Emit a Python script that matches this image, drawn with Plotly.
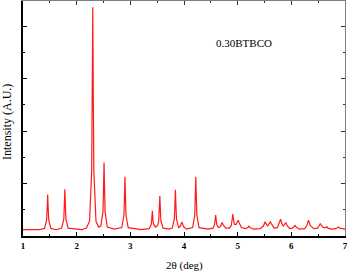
import plotly.graph_objects as go

# Diffraction pattern (2theta in degrees, intensity in arbitrary units)
two_theta = [
    1.00, 1.30,
    1.40, 1.44, 1.45, 1.46, 1.47, 1.48, 1.52, 1.62,
    1.72, 1.76, 1.77, 1.78, 1.79, 1.80, 1.84, 2.10,
    2.18, 2.24, 2.28, 2.29, 2.30, 2.31, 2.32, 2.36, 2.41,
    2.45, 2.49, 2.50, 2.51, 2.52, 2.53, 2.57, 2.70,
    2.84, 2.88, 2.89, 2.90, 2.91, 2.92, 2.96, 3.20,
    3.35, 3.39, 3.40, 3.41, 3.42, 3.43, 3.47,
    3.51, 3.53, 3.54, 3.55, 3.56, 3.57, 3.61, 3.72,
    3.78, 3.82, 3.83, 3.84, 3.85, 3.86, 3.90,
    3.93, 3.95, 3.96, 3.97, 3.99, 4.05, 4.12,
    4.16, 4.20, 4.21, 4.22, 4.23, 4.24, 4.28, 4.45,
    4.54, 4.57, 4.58, 4.59, 4.60, 4.61, 4.64, 4.67,
    4.69, 4.71, 4.73, 4.78, 4.85,
    4.88, 4.90, 4.91, 4.92, 4.94, 4.97,
    4.99, 5.01, 5.03, 5.07, 5.15,
    5.19, 5.21, 5.23, 5.30, 5.42,
    5.48, 5.50, 5.51, 5.53, 5.56,
    5.59, 5.61, 5.63, 5.68, 5.74,
    5.78, 5.80, 5.82, 5.85,
    5.88, 5.90, 5.92, 5.97, 6.02,
    6.05, 6.07, 6.09, 6.15, 6.25,
    6.29, 6.31, 6.32, 6.33, 6.35, 6.42, 6.49,
    6.52, 6.54, 6.56, 6.60,
    6.64, 6.66, 6.68, 6.75, 6.83,
    6.86, 6.88, 6.90, 6.96, 7.00,
]
intensity = [
    0.12, 0.12,
    0.145, 0.30, 0.52, 0.79, 0.52, 0.30, 0.145, 0.12,
    0.15, 0.32, 0.57, 0.89, 0.57, 0.32, 0.15, 0.12,
    0.15, 0.28, 1.24, 2.62, 4.36, 2.62, 1.24, 0.28, 0.17,
    0.19, 0.46, 0.88, 1.40, 0.88, 0.46, 0.17, 0.13,
    0.16, 0.39, 0.72, 1.13, 0.72, 0.39, 0.16, 0.12,
    0.14, 0.22, 0.33, 0.48, 0.33, 0.23, 0.17,
    0.20, 0.30, 0.50, 0.76, 0.50, 0.29, 0.15, 0.13,
    0.15, 0.32, 0.57, 0.88, 0.57, 0.32, 0.16,
    0.18, 0.24, 0.27, 0.24, 0.18, 0.13, 0.14,
    0.16, 0.39, 0.72, 1.13, 0.72, 0.39, 0.16, 0.13,
    0.15, 0.22, 0.31, 0.40, 0.31, 0.22, 0.16, 0.17,
    0.21, 0.26, 0.21, 0.15, 0.15,
    0.20, 0.33, 0.42, 0.33, 0.22, 0.22,
    0.26, 0.30, 0.25, 0.16, 0.14,
    0.16, 0.19, 0.16, 0.13, 0.14,
    0.19, 0.25, 0.27, 0.23, 0.19,
    0.24, 0.27, 0.23, 0.15, 0.16,
    0.26, 0.32, 0.24, 0.19,
    0.23, 0.25, 0.20, 0.14, 0.15,
    0.18, 0.20, 0.17, 0.13, 0.14,
    0.20, 0.27, 0.30, 0.27, 0.20, 0.14, 0.15,
    0.20, 0.24, 0.20, 0.16,
    0.16, 0.18, 0.15, 0.13, 0.14,
    0.16, 0.17, 0.15, 0.13, 0.13,
]

x_ticks = [1, 2, 3, 4, 5, 6, 7]
x_tick_labels = ["1", "2", "3", "4", "5", "6", "7"]
sample_label = "0.30BTBCO"
x_title = "2θ (deg)"
y_title = "Intensity (A.U.)"

X_RANGE = [1, 7]
Y_RANGE = [0, 4.48]
FONT = "Liberation Serif"

fig = go.Figure()
fig.add_trace(go.Scatter(
    x=two_theta, y=intensity, mode="lines",
    line=dict(color="#ff1a1a", width=1.2),
    showlegend=False, hoverinfo="skip",
))
# invisible helper trace so the top/right frame axes are drawn
fig.add_trace(go.Scatter(x=[None], y=[None], xaxis="x2", yaxis="y2",
                         showlegend=False, hoverinfo="skip"))

fig.update_layout(
    width=349, height=272,
    margin=dict(l=23, r=4, t=1, b=36, autoexpand=False),
    paper_bgcolor="white", plot_bgcolor="white",
    font=dict(family=FONT, color="black"),
    xaxis=dict(
        range=X_RANGE, tickmode="array", tickvals=x_ticks, ticktext=x_tick_labels,
        ticks="inside", ticklen=4, tickwidth=1, tickcolor="black",
        minor=dict(ticks="inside", ticklen=2, dtick=0.5, tickcolor="black"),
        showline=True, linecolor="black", linewidth=1.5,
        showgrid=False, zeroline=False, automargin=False,
        tickfont=dict(family=FONT, size=9, color="black", weight="bold"),
    ),
    yaxis=dict(
        range=Y_RANGE, dtick=1, tick0=0,
        ticks="inside", ticklen=4, tickwidth=1, tickcolor="black",
        minor=dict(ticks="inside", ticklen=2, dtick=0.5, tickcolor="black"),
        showline=True, linecolor="black", linewidth=1.5,
        showticklabels=False, showgrid=False, zeroline=False, automargin=False,
    ),
    xaxis2=dict(
        range=X_RANGE, overlaying="x", side="top", anchor="y",
        tickmode="array", tickvals=x_ticks,
        ticks="inside", ticklen=4, tickcolor="#333",
        minor=dict(ticks="inside", ticklen=2, dtick=0.5, tickcolor="#333"),
        showline=True, linecolor="#808080", linewidth=1,
        showticklabels=False, showgrid=False, zeroline=False, automargin=False,
    ),
    yaxis2=dict(
        range=Y_RANGE, overlaying="y", side="right", anchor="x",
        dtick=1, tick0=0,
        ticks="inside", ticklen=4, tickcolor="#333",
        minor=dict(ticks="inside", ticklen=2, dtick=0.5, tickcolor="#333"),
        showline=True, linecolor="#808080", linewidth=1,
        showticklabels=False, showgrid=False, zeroline=False, automargin=False,
    ),
    annotations=[
        dict(text=sample_label, x=5.12, y=3.68, xref="x", yref="y",
             xanchor="center", yanchor="middle",
             showarrow=False, font=dict(family=FONT, size=11, color="black")),
        dict(text=x_title, x=0.5, y=0, xref="paper", yref="paper",
             xanchor="center", yanchor="middle",
             showarrow=False, font=dict(family=FONT, size=11, color="black")),
        dict(text=y_title, x=0, y=0.5, xref="paper", yref="paper",
             xanchor="center", yanchor="middle",
             showarrow=False, textangle=-90,
             font=dict(family=FONT, size=12, color="black")),
    ],
)
# place axis titles in pixel terms relative to the plotting area
plot_h = 272 - 1 - 36
plot_w = 349 - 23 - 4
fig.layout.annotations[1].y = -(265 - 236) / plot_h
fig.layout.annotations[2].x = -(23 - 7) / plot_w
fig.layout.annotations[2].y = (236 - 122) / plot_h

fig.write_html(
    "out.html",
    config={"displayModeBar": False},
    post_script="document.body.style.margin='0';document.body.style.padding='0';",
)
